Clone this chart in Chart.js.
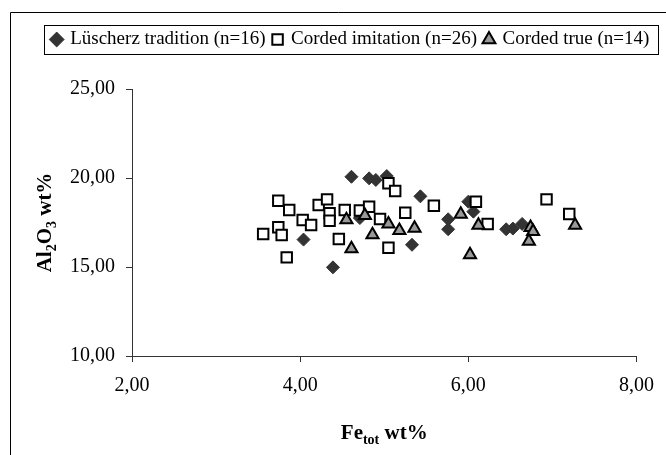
<!DOCTYPE html>
<html>
<head>
<meta charset="utf-8">
<script src="https://cdn.jsdelivr.net/npm/chart.js@4.4.1/dist/chart.umd.min.js"></script>
<style>
  html, body { margin: 0; padding: 0; background: #fff; }
  #chart { display: block; }
</style>
</head>
<body>
<canvas id="chart" width="666" height="455"></canvas>
<script>
// Fe(tot) vs Al2O3 (wt%) per ceramic group
const luscherzFe = [4.61, 4.82, 4.90, 5.03, 5.43, 4.04, 4.39, 5.33, 4.71, 5.76, 5.76, 6.00, 6.06, 6.45, 6.53, 6.64];
const luscherzAl = [20.07, 19.98, 19.89, 20.11, 18.97, 16.54, 14.98, 16.25, 17.75, 17.68, 17.12, 18.67, 18.11, 17.12, 17.16, 17.42];

const imitationFe = [3.56, 3.74, 3.87, 3.74, 3.78, 3.84, 4.03, 4.13, 4.22, 4.32, 4.35, 4.35, 4.46,
                     4.53, 4.71, 4.82, 4.95, 5.05, 5.13, 5.25, 5.05, 5.59, 6.09, 6.23, 6.93, 7.20];
const imitationAl = [16.85, 18.72, 18.20, 17.23, 16.80, 15.54, 17.64, 17.36, 18.48, 18.80, 18.02, 17.60, 16.57,
                     18.20, 18.17, 18.39, 17.70, 19.70, 19.27, 18.05, 16.08, 18.44, 18.67, 17.42, 18.80, 17.98];

const trueFe = [4.55, 4.61, 4.77, 4.86, 5.05, 5.18, 5.36, 5.91, 6.02, 6.12, 6.74, 6.77, 6.72, 7.27];
const trueAl = [17.66, 16.03, 17.90, 16.81, 17.41, 17.05, 17.18, 17.97, 15.69, 17.34, 17.22, 17.00, 16.44, 17.34];

const seriesLabels = ["Lüscherz tradition (n=16)", "Corded imitation (n=26)", "Corded true (n=14)"];

const xTicks = [2, 4, 6, 8];
const yTicks = [10, 15, 20, 25];

const SERIF = '"Liberation Serif", "Times New Roman", serif';

function toPoints(xs, ys) {
  return xs.map((x, i) => ({ x: x, y: ys[i] }));
}

function fmt(v) {
  return v.toFixed(2).replace(".", ",");
}

// outer frame of the chart area (only left and top edges are visible)
const framePlugin = {
  id: "frame",
  beforeDraw(chart) {
    const ctx = chart.ctx;
    ctx.save();
    ctx.strokeStyle = "#000";
    ctx.lineWidth = 1;
    ctx.beginPath();
    ctx.moveTo(10.5, chart.height);
    ctx.lineTo(10.5, 12.5);
    ctx.lineTo(chart.width, 12.5);
    ctx.stroke();
    ctx.restore();
  },
};

// box around the legend row
const legendBoxPlugin = {
  id: "legendBox",
  afterDraw(chart) {
    const boxes = chart.legend && chart.legend.legendHitBoxes;
    if (!boxes || !boxes.length) return;
    const first = boxes[0];
    const last = boxes[boxes.length - 1];
    const x0 = Math.round(first.left - 9) + 0.5;
    const x1 = Math.round(last.left + last.width + 9) + 0.5;
    const y0 = Math.round(first.top - 5) + 0.5;
    const y1 = Math.round(first.top + first.height + 5) + 0.5;
    const ctx = chart.ctx;
    ctx.save();
    ctx.strokeStyle = "#000";
    ctx.lineWidth = 1;
    ctx.strokeRect(x0, y0, x1 - x0, y1 - y0);
    ctx.restore();
  },
};

// draws a run of text where some parts are subscripts
function drawParts(ctx, parts, cx, baseline) {
  const big = "bold 21px " + SERIF;
  const small = "bold 14px " + SERIF;
  let total = 0;
  parts.forEach((p) => {
    ctx.font = p[1] ? small : big;
    total += ctx.measureText(p[0]).width;
  });
  let x = cx - total / 2;
  parts.forEach((p) => {
    ctx.font = p[1] ? small : big;
    ctx.fillText(p[0], x, baseline + (p[1] ? 5 : 0));
    x += ctx.measureText(p[0]).width;
  });
}

const axisTitlePlugin = {
  id: "axisTitles",
  afterDraw(chart) {
    const ctx = chart.ctx;
    const area = chart.chartArea;
    ctx.save();
    ctx.fillStyle = "#000";
    ctx.textBaseline = "alphabetic";
    ctx.textAlign = "left";
    drawParts(ctx, [["Fe", false], ["tot", true], [" wt%", false]], (area.left + area.right) / 2, 439);
    ctx.translate(51, (area.top + area.bottom) / 2);
    ctx.rotate(-Math.PI / 2);
    drawParts(ctx, [["Al", false], ["2", true], ["O", false], ["3", true], [" wt%", false]], 0, 0);
    ctx.restore();
  },
};

const axisStyle = {
  grid: { display: true, drawOnChartArea: false, drawTicks: true, tickLength: 6, color: "#333" },
  border: { display: true, color: "#333", width: 1 },
};

// invisible axes that only reserve space around the plot
function spacer(position, size) {
  return {
    type: "linear",
    position: position,
    display: true,
    ticks: { display: false },
    grid: { display: false },
    border: { display: false },
    afterFit(scale) {
      if (position === "top") scale.height = size;
      else scale.width = size;
    },
  };
}

new Chart(document.getElementById("chart"), {
  type: "scatter",
  data: {
    datasets: [
      {
        label: seriesLabels[0],
        data: toPoints(luscherzFe, luscherzAl),
        pointStyle: "rectRot",
        pointRadius: 6.5,
        backgroundColor: "#333333",
        borderColor: "#333333",
        borderWidth: 1,
        order: 2,
      },
      {
        label: seriesLabels[1],
        data: toPoints(imitationFe, imitationAl),
        pointStyle: "rect",
        pointRadius: 7.4,
        backgroundColor: "#ffffff",
        borderColor: "#000000",
        borderWidth: 2,
        order: 1,
      },
      {
        label: seriesLabels[2],
        data: toPoints(trueFe, trueAl),
        pointStyle: "triangle",
        pointRadius: 7,
        backgroundColor: "#999999",
        borderColor: "#000000",
        borderWidth: 2,
        order: 0,
      },
    ],
  },
  options: {
    responsive: false,
    animation: false,
    events: [],
    layout: { padding: { left: 40, right: 4, top: 22, bottom: 0 } },
    plugins: {
      tooltip: { enabled: false },
      legend: {
        display: true,
        position: "top",
        labels: {
          usePointStyle: true,
          boxWidth: 8,
          boxHeight: 10.5,
          padding: 8,
          color: "#000",
          font: { family: SERIF, size: 19 },
          sort: (a, b) => a.datasetIndex - b.datasetIndex,
        },
      },
    },
    scales: {
      x: {
        type: "linear",
        position: "bottom",
        min: xTicks[0],
        max: xTicks[xTicks.length - 1],
        afterBuildTicks(scale) {
          scale.ticks = xTicks.map((v) => ({ value: v }));
        },
        ticks: {
          color: "#000",
          padding: 12,
          maxRotation: 0,
          font: { family: SERIF, size: 20 },
          callback: (v) => fmt(v),
        },
        ...axisStyle,
        afterFit(scale) {
          scale.height = 99;
        },
      },
      y: {
        type: "linear",
        position: "left",
        min: yTicks[0],
        max: yTicks[yTicks.length - 1],
        afterBuildTicks(scale) {
          scale.ticks = yTicks.map((v) => ({ value: v }));
        },
        ticks: {
          color: "#000",
          padding: 11,
          font: { family: SERIF, size: 20 },
          callback: (v) => fmt(v),
        },
        ...axisStyle,
        afterFit(scale) {
          scale.width = 92;
        },
      },
      padTop: spacer("top", 30),
      padRight: spacer("right", 24),
    },
  },
  plugins: [framePlugin, legendBoxPlugin, axisTitlePlugin],
});
</script>
</body>
</html>
